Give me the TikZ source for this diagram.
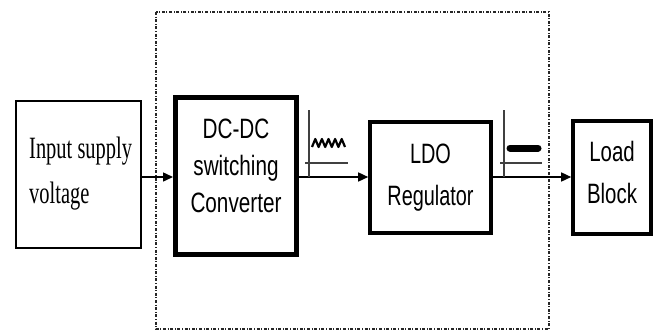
\documentclass[tikz,border=0pt]{standalone}
\usepackage{fontspec}
\setmainfont{Liberation Serif}
\setsansfont{Liberation Sans}
\usetikzlibrary{arrows.meta}
\begin{document}
\begin{tikzpicture}[x=1pt,y=-1pt,
  thinbox/.style={draw, line width=1.1pt, inner sep=0pt},
  thickbox/.style={draw, line width=5pt, inner sep=0pt},
  midbox/.style={draw, line width=3.6pt, inner sep=0pt},
  flow/.style={line width=1.5pt, -{Triangle[length=10pt,width=9pt]}},
  axisline/.style={line width=1.4pt, black!75},
  sanslbl/.style={font=\sffamily\fontsize{28}{40}\selectfont, align=center},
]
\useasboundingbox (0,0) rectangle (658,332);
% dashed enclosure
\draw[line width=1.1pt, dash pattern=on 3pt off 1.6pt on 1pt off 1.6pt, black!85] (156,12) rectangle (549,329);

% boxes
\node[thinbox, minimum width=125pt, minimum height=147pt] (in) at (78.5,174.5) {};
\node[thickbox, minimum width=121pt, minimum height=157pt] (dc) at (236,176) {};
\node[midbox, minimum width=121pt, minimum height=111pt] (ldo) at (430.5,177.5) {};
\node[midbox, minimum width=78pt, minimum height=113pt] (load) at (612,177.5) {};

% texts
\node[anchor=north west, inner sep=0pt] (intext) at (29,127) {\scalebox{0.66}[1]{\fontsize{31}{45}\selectfont\begin{tabular}{@{}l@{}}Input supply\\voltage\end{tabular}}};
\node[inner sep=0pt] (dctext) at (236,168) {\scalebox{0.74}[1]{\sffamily\fontsize{28}{37}\selectfont\begin{tabular}{@{}c@{}}DC-DC\\switching\\Converter\end{tabular}}};
\node[inner sep=0pt] (ldotext) at (430.5,176) {\scalebox{0.71}[1]{\sffamily\fontsize{28}{42}\selectfont\begin{tabular}{@{}c@{}}LDO\\Regulator\end{tabular}}};
\node[inner sep=0pt] (loadtext) at (612,174) {\scalebox{0.73}[1]{\sffamily\fontsize{28}{42}\selectfont\begin{tabular}{@{}c@{}}Load\\Block\end{tabular}}};

% connectors
\draw[flow] (in.east |- 0,177) -- (dc.west |- 0,177);
\draw[flow] (dc.east |- 0,177) -- (ldo.west |- 0,177);
\draw[flow] (ldo.east |- 0,177) -- (load.west |- 0,177);

% waveform symbol 1 (ripple)
\coordinate (v1t) at (309,110);
\coordinate (v1b) at (309,177);
\draw[axisline] (v1t) -- (v1b);
\coordinate (a1l) at (305,163);
\coordinate (a1r) at (348,163);
\draw[axisline] (a1l) -- (a1r);
\draw[line width=2.2pt, line join=round]
  (312,147) \foreach \i in {1,...,5} {-- ++(3.3,-8) -- ++(3.3,8)};

% waveform symbol 2 (flat DC)
\coordinate (v2t) at (504,110);
\coordinate (v2b) at (504,177);
\draw[axisline] (v2t) -- (v2b);
\coordinate (a2l) at (500,163);
\coordinate (a2r) at (542,163);
\draw[axisline] (a2l) -- (a2r);
\coordinate (b2l) at (510,148);
\coordinate (b2r) at (538,148);
\draw[line width=7pt, line cap=round] (b2l) -- (b2r);
\end{tikzpicture}
\end{document}
